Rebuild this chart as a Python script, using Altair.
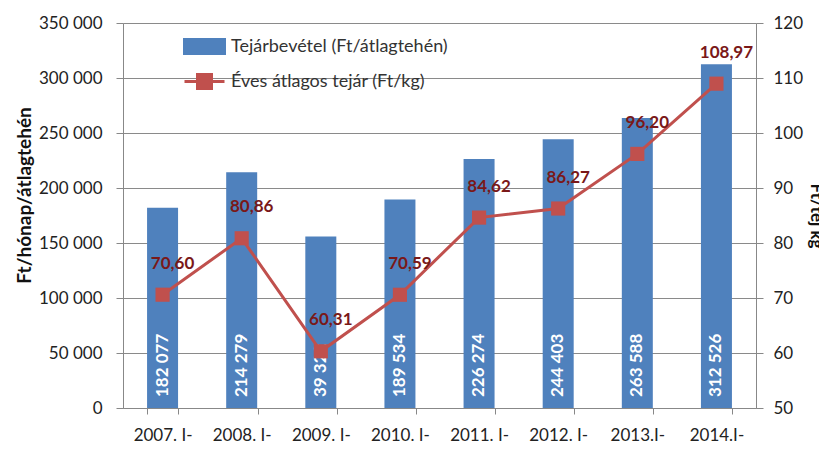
import altair as alt
import pandas as pd

categories = ["2007. I-IV", "2008. I-IV", "2009. I-IV", "2010. I-IV",
              "2011. I-IV", "2012. I-IV", "2013.I-IV", "2014.I-IV"]
bar_values = [182077, 214279, 156000, 189534, 226274, 244403, 263588, 312526]
bar_labels = ["182 077", "214 279", "39 322", "189 534", "226 274", "244 403", "263 588", "312 526"]
milk_price = [70.60, 80.86, 60.31, 70.59, 84.62, 86.27, 96.20, 108.97]

BAR_NAME = "Tejárbevétel (Ft/átlagtehén)"
LINE_NAME = "Éves átlagos tejár (Ft/kg)"
BLUE = "#4F81BD"
RED = "#C0504D"
DARKRED = "#7A1818"
FONT = "Lato"

df = pd.DataFrame({"cat": categories, "bar": bar_values, "lab": bar_labels, "price": milk_price})

x_enc = alt.X("cat:N", sort=categories, title=None,
              scale=alt.Scale(paddingInner=0.6, paddingOuter=0.3),
              axis=alt.Axis(labelExpr="[replace(datum.label, 'IV', ''), 'IV']",
                            labelAngle=0, labelFontSize=17, labelColor="#222222",
                            labelLineHeight=24, labelPadding=13, ticks=True, tickBand="extent",
                            tickSize=6, tickColor="#888888",
                            domainColor="#888888", labelFont=FONT))

color_scale = alt.Scale(domain=[BAR_NAME, LINE_NAME], range=[BLUE, RED])
is_bar = "datum.value == '%s'" % BAR_NAME
legend = alt.Legend(
    title=None, orient="none", legendX=60, legendY=2,
    labelFontSize=18, labelColor="#333333", labelFont=FONT, labelLimit=0,
    symbolSize=1600, rowPadding=0, labelOffset=5,
    symbolType=alt.ExprRef(expr=is_bar + " ? 'M-1,-0.35H1V0.35H-1Z' : 'M-1,0H1M-0.35,-0.35H0.35V0.35H-0.35Z'"),
    symbolFillColor=alt.ExprRef(expr=is_bar + " ? '%s' : '%s'" % (BLUE, RED)),
    symbolStrokeColor=alt.ExprRef(expr=is_bar + " ? '%s' : '%s'" % (BLUE, RED)),
    symbolStrokeWidth=3, symbolOpacity=1,
)

left_axis = alt.Axis(values=list(range(0, 350001, 50000)),
                     labelExpr="replace(format(datum.value, ','), ',', ' ')",
                     title="Ft/hónap/átlagtehén", titleFontSize=19, titleFont=FONT,
                     titleFontWeight="bold", titleColor="#111111", titleY=172,
                     labelFontSize=17, labelFont=FONT, labelColor="#222222",
                     gridColor="#8a8a8a", domainColor="#888888", tickColor="#888888",
                     tickSize=7, labelPadding=14, titlePadding=4)

bars = alt.Chart(df).mark_bar(size=31).encode(
    x=x_enc,
    y=alt.Y("bar:Q", scale=alt.Scale(domain=[0, 350000]), axis=left_axis),
    color=alt.Color("series:N", scale=color_scale, legend=legend),
).transform_calculate(series="'%s'" % BAR_NAME)

bar_text = alt.Chart(df).mark_text(angle=270, align="left", baseline="middle", dx=11,
                                   color="white", fontWeight="bold", fontSize=17, font=FONT).encode(
    x=alt.X("cat:N", sort=categories),
    y=alt.datum(0),
    text="lab:N",
)

left = alt.layer(bars, bar_text)

right_axis = alt.Axis(values=list(range(50, 121, 10)), orient="right",
                      title="Ft/tej kg", titleFontSize=17, titleFont=FONT,
                      titleFontWeight="bold", titleColor="#111111",
                      labelFontSize=17, labelFont=FONT, labelColor="#222222",
                      grid=False, domainColor="#888888", tickColor="#888888",
                      tickSize=7, labelPadding=10, titlePadding=4)

line = alt.Chart(df).mark_line(strokeWidth=3,
                               point=alt.OverlayMarkDef(shape="square", size=200, filled=True, color=RED, opacity=1)).encode(
    x=alt.X("cat:N", sort=categories),
    y=alt.Y("price:Q", scale=alt.Scale(domain=[50, 120]), axis=right_axis),
    color=alt.Color("series:N", scale=color_scale, legend=legend),
).transform_calculate(series="'%s'" % LINE_NAME)

line_text = alt.Chart(df).mark_text(dx=10, dy=-31, color=DARKRED, fontWeight="bold",
                                    fontSize=17, font=FONT).encode(
    x=alt.X("cat:N", sort=categories),
    y=alt.Y("price:Q"),
    text="plabel:N",
).transform_calculate(plabel="replace(format(datum.price, '.2f'), '.', ',')")

right = alt.layer(line, line_text)

chart = alt.layer(left, right).resolve_scale(y="independent").properties(
    width=633, height=385,
    autosize=alt.AutoSizeParams(type="none"),
    padding={"left": 115, "top": 15, "right": 63, "bottom": 40},
).configure_view(stroke=None).configure(background="white")

chart.save("out.html", embed_options={"renderer": "svg", "actions": False})
